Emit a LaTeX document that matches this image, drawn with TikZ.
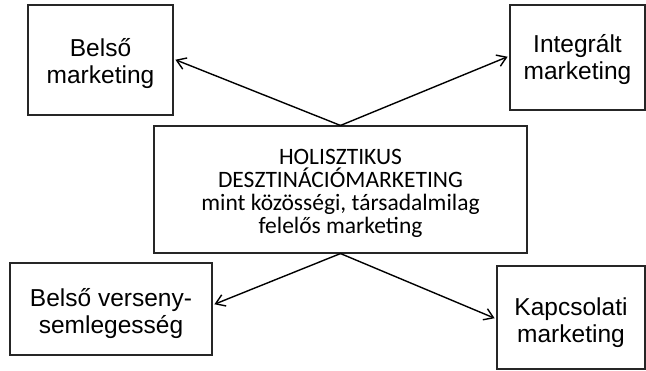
\documentclass[tikz,border=0pt]{standalone}
\usepackage{fontspec}
\setmainfont{Liberation Sans}
\newfontfamily\calibri{Carlito}
\usetikzlibrary{arrows.meta}
\begin{document}
\begin{tikzpicture}[x=1pt,y=-1pt,
  box/.style={draw=black!85, line width=1.1pt, inner sep=0pt},
  lbl/.style={inner sep=0pt, align=center, font=\fontsize{24.5}{27}\selectfont},
  corelbl/.style={lbl, font=\calibri\fontsize{23.5}{23}\selectfont},
  link/.style={line width=1.4pt, shorten >=2pt,
    -{Straight Barb[length=9pt,width=12pt]}}]
\useasboundingbox (0,0) rectangle (646,370);
% outer boxes
\node[box, minimum width=145pt, minimum height=110pt] (b1) at (100.5,60) {};
\node[box, minimum width=135pt, minimum height=105pt] (b2) at (577.5,57.5) {};
\node[box, minimum width=202pt, minimum height=92pt] (b3) at (111,309) {};
\node[box, minimum width=148pt, minimum height=103pt] (b4) at (571,317.5) {};
% their labels sit a little below the box centres
\node[lbl] (t1) at ([yshift=-4pt]b1.center) {Belső\\marketing};
\node[lbl] (t2) at ([yshift=-2.5pt]b2.center) {Integrált\\marketing};
\node[lbl] (t3) at ([yshift=-4.5pt]b3.center) {Belső verseny-\\semlegesség};
\node[lbl] (t4) at ([yshift=-5pt]b4.center) {Kapcsolati\\marketing};
% central box
\node[box, minimum width=373pt, minimum height=127pt] (c) at (340.5,189.5) {};
\node[corelbl] (tc) at ([yshift=-3.5pt]c.center)
  {HOLISZTIKUS\\DESZTINÁCIÓMARKETING\\mint közösségi, társadalmilag\\felelős marketing};
% connectors
\draw[link] (c.north) -- ([yshift=1pt]b1.east);
\draw[link] (c.north) -- ([yshift=1.5pt]b2.west);
\draw[link] (c.south) -- ([yshift=4pt]b3.east);
\draw[link] (c.south) -- ([yshift=-1.5pt]b4.west);
\end{tikzpicture}
\end{document}
